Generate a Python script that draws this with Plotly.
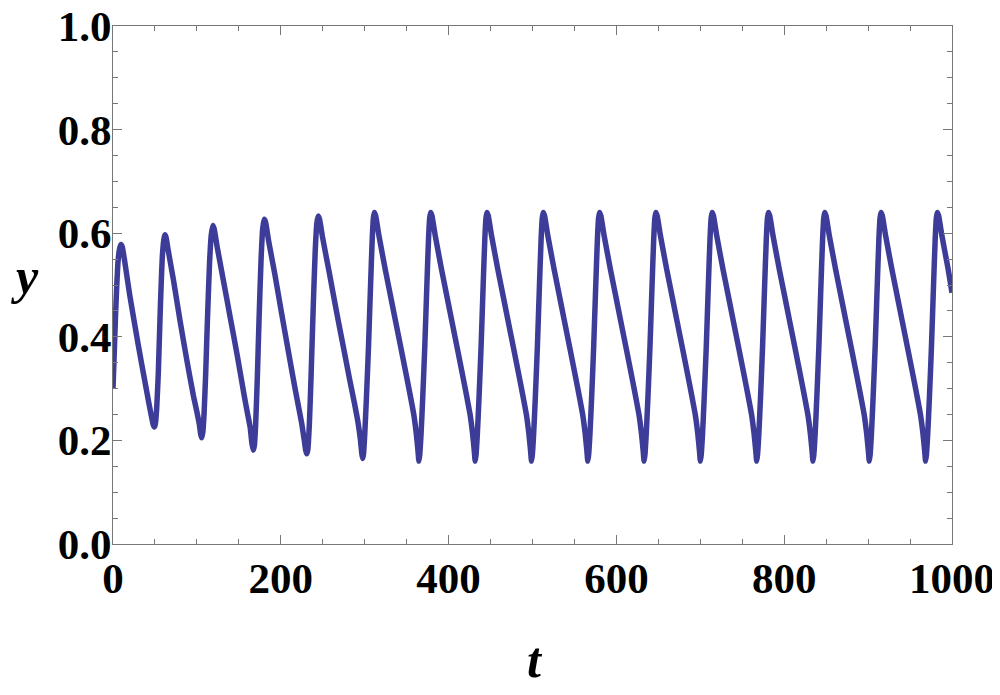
import plotly.graph_objects as go

# time / value, one oscillation per line
t = [
    0, 1.5, 3, 4.5, 6, 7.8, 9.5, 11, 14, 20, 30, 39, 43, 46, 48, 49.3,
    50.5, 52, 54, 56.5, 59, 60.8, 62, 63.2, 66, 72, 80, 88, 96, 100, 103, 104.5, 105.7,
    107, 108.5, 110.5, 112.5, 115, 117, 119, 120.5, 124, 132, 140, 148, 156, 160, 163.5, 165.5, 167,
    168.5, 170, 172, 174, 176.5, 178.5, 180.3, 181.8, 185.5, 193, 201, 209, 217, 221.5, 225, 228, 229.8, 230.9,
    232.2, 234, 236, 238.5, 241, 243, 244.5, 246, 250, 258, 266, 274, 282, 288, 292, 295, 296.5, 297.5,
    298.5, 300, 302, 304.5, 307, 309, 310.4, 311.5, 313, 317, 324.5, 332.5, 340.5, 348.5, 354.5, 358.5, 361.5, 363.5, 364.6,
    365.6, 367.1, 369.1, 371.6, 374.1, 376.1, 377.5, 378.6, 380.1, 384.1, 391.6, 399.6, 407.6, 415.6, 421.6, 425.6, 428.6, 430.6, 431.7,
    432.7, 434.2, 436.2, 438.7, 441.2, 443.2, 444.6, 445.7, 447.2, 451.2, 458.7, 466.7, 474.7, 482.7, 488.7, 492.7, 495.7, 497.7, 498.8,
    499.8, 501.3, 503.3, 505.8, 508.3, 510.3, 511.7, 512.8, 514.3, 518.3, 525.8, 533.8, 541.8, 549.8, 555.8, 559.8, 562.8, 564.8, 565.9,
    566.9, 568.4, 570.4, 572.9, 575.4, 577.4, 578.8, 579.9, 581.4, 585.4, 592.9, 600.9, 608.9, 616.9, 622.9, 626.9, 629.9, 631.9, 633.0,
    634.0, 635.5, 637.5, 640.0, 642.5, 644.5, 645.9, 647.0, 648.5, 652.5, 660.0, 668.0, 676.0, 684.0, 690.0, 694.0, 697.0, 699.0, 700.1,
    701.1, 702.6, 704.6, 707.1, 709.6, 711.6, 713.0, 714.1, 715.6, 719.6, 727.1, 735.1, 743.1, 751.1, 757.1, 761.1, 764.1, 766.1, 767.2,
    768.2, 769.7, 771.7, 774.2, 776.7, 778.7, 780.1, 781.2, 782.7, 786.7, 794.2, 802.2, 810.2, 818.2, 824.2, 828.2, 831.2, 833.2, 834.3,
    835.3, 836.8, 838.8, 841.3, 843.8, 845.8, 847.2, 848.3, 849.8, 853.8, 861.3, 869.3, 877.3, 885.3, 891.3, 895.3, 898.3, 900.3, 901.4,
    902.4, 903.9, 905.9, 908.4, 910.9, 912.9, 914.3, 915.4, 916.9, 920.9, 928.4, 936.4, 944.4, 952.4, 958.4, 962.4, 965.4, 967.4, 968.5,
    969.5, 971.0, 973.0, 975.5, 978.0, 980.0, 981.4, 982.5, 984.0, 988.0, 995.5, 1000,
]
y = [
    0.300, 0.37, 0.44, 0.50, 0.545, 0.570, 0.578, 0.574, 0.545, 0.48, 0.385, 0.305, 0.27, 0.245, 0.230, 0.226,
    0.232, 0.26, 0.33, 0.46, 0.56, 0.59, 0.597, 0.592, 0.565, 0.51, 0.43, 0.355, 0.285, 0.255, 0.23, 0.212, 0.205,
    0.215, 0.25, 0.33, 0.43, 0.54, 0.595, 0.615, 0.609, 0.575, 0.505, 0.435, 0.365, 0.29, 0.255, 0.225, 0.195, 0.181,
    0.19, 0.23, 0.32, 0.43, 0.55, 0.61, 0.627, 0.622, 0.585, 0.52, 0.445, 0.372, 0.30, 0.262, 0.232, 0.20, 0.18, 0.174,
    0.182, 0.23, 0.32, 0.45, 0.565, 0.62, 0.633, 0.628, 0.59, 0.522, 0.452, 0.385, 0.318, 0.27, 0.235, 0.20, 0.175, 0.165,
    0.172, 0.21, 0.28, 0.38, 0.50, 0.59, 0.630, 0.640, 0.634, 0.595, 0.53, 0.465, 0.40, 0.335, 0.285, 0.25, 0.213, 0.18, 0.160,
    0.172, 0.21, 0.28, 0.38, 0.50, 0.59, 0.630, 0.640, 0.634, 0.595, 0.53, 0.465, 0.40, 0.335, 0.285, 0.25, 0.213, 0.18, 0.160,
    0.172, 0.21, 0.28, 0.38, 0.50, 0.59, 0.630, 0.640, 0.634, 0.595, 0.53, 0.465, 0.40, 0.335, 0.285, 0.25, 0.213, 0.18, 0.160,
    0.172, 0.21, 0.28, 0.38, 0.50, 0.59, 0.630, 0.640, 0.634, 0.595, 0.53, 0.465, 0.40, 0.335, 0.285, 0.25, 0.213, 0.18, 0.160,
    0.172, 0.21, 0.28, 0.38, 0.50, 0.59, 0.630, 0.640, 0.634, 0.595, 0.53, 0.465, 0.40, 0.335, 0.285, 0.25, 0.213, 0.18, 0.160,
    0.172, 0.21, 0.28, 0.38, 0.50, 0.59, 0.630, 0.640, 0.634, 0.595, 0.53, 0.465, 0.40, 0.335, 0.285, 0.25, 0.213, 0.18, 0.160,
    0.172, 0.21, 0.28, 0.38, 0.50, 0.59, 0.630, 0.640, 0.634, 0.595, 0.53, 0.465, 0.40, 0.335, 0.285, 0.25, 0.213, 0.18, 0.160,
    0.172, 0.21, 0.28, 0.38, 0.50, 0.59, 0.630, 0.640, 0.634, 0.595, 0.53, 0.465, 0.40, 0.335, 0.285, 0.25, 0.213, 0.18, 0.160,
    0.172, 0.21, 0.28, 0.38, 0.50, 0.59, 0.630, 0.640, 0.634, 0.595, 0.53, 0.465, 0.40, 0.335, 0.285, 0.25, 0.213, 0.18, 0.160,
    0.172, 0.21, 0.28, 0.38, 0.50, 0.59, 0.630, 0.640, 0.634, 0.595, 0.53, 0.465, 0.40, 0.335, 0.285, 0.25, 0.213, 0.18, 0.160,
    0.172, 0.21, 0.28, 0.38, 0.50, 0.59, 0.630, 0.640, 0.634, 0.595, 0.53, 0.485,
]

x_ticks = [0, 200, 400, 600, 800, 1000]
y_ticks = [0.0, 0.2, 0.4, 0.6, 0.8, 1.0]
y_labels = ["0.0", "0.2", "0.4", "0.6", "0.8", "1.0"]

font_bold = dict(family="Liberation Serif", size=43, color="black", weight="bold")
title_font = dict(family="Liberation Serif", size=50, color="black")

# the page body adds ~8px, so the margins are set 8px smaller on the left/top
L, R, T, B = 105, 56, 18, 159
W, H = 1000, 695

fig = go.Figure()
fig.add_trace(go.Scatter(x=t, y=y, mode="lines",
                         line=dict(color="#3d3d99", width=5.5, shape="spline", smoothing=0.5)))

axis_common = dict(showline=True, linecolor="#777", linewidth=1, mirror="allticks",
                   ticks="inside", ticklen=9, tickcolor="#777", tickwidth=1,
                   showgrid=False, zeroline=False, tickfont=font_bold, automargin=False,
                   ticklabeloverflow="allow")

fig.update_xaxes(range=[0, 1000], tickvals=x_ticks, ticktext=[str(v) for v in x_ticks],
                 minor=dict(ticks="inside", ticklen=5, dtick=50, tick0=0, tickcolor="#777", showgrid=False),
                 ticklabelstandoff=-4, **axis_common)
fig.update_yaxes(range=[0, 1], tickvals=y_ticks, ticktext=y_labels,
                 minor=dict(ticks="inside", ticklen=5, dtick=0.05, tick0=0, tickcolor="#777", showgrid=False),
                 ticklabelstandoff=-8, **axis_common)

pw, ph = W - L - R, H - T - B
# axis names, upright like the original (positions in page pixels, minus the 8px offset)
fig.add_annotation(text="<b><i>t</i></b>", x=(527 - L) / pw, y=(H - B - 652) / ph,
                   xref="paper", yref="paper", xanchor="center", yanchor="middle",
                   showarrow=False, font=title_font)
fig.add_annotation(text="<b><i>y</i></b>", x=(17 - L) / pw, y=(H - B - 268) / ph,
                   xref="paper", yref="paper", xanchor="center", yanchor="middle",
                   showarrow=False, font=title_font)

fig.update_layout(width=W, height=H, showlegend=False,
                  plot_bgcolor="white", paper_bgcolor="white",
                  margin=dict(l=L, r=R, t=T, b=B))

fig.write_html("out.html")
